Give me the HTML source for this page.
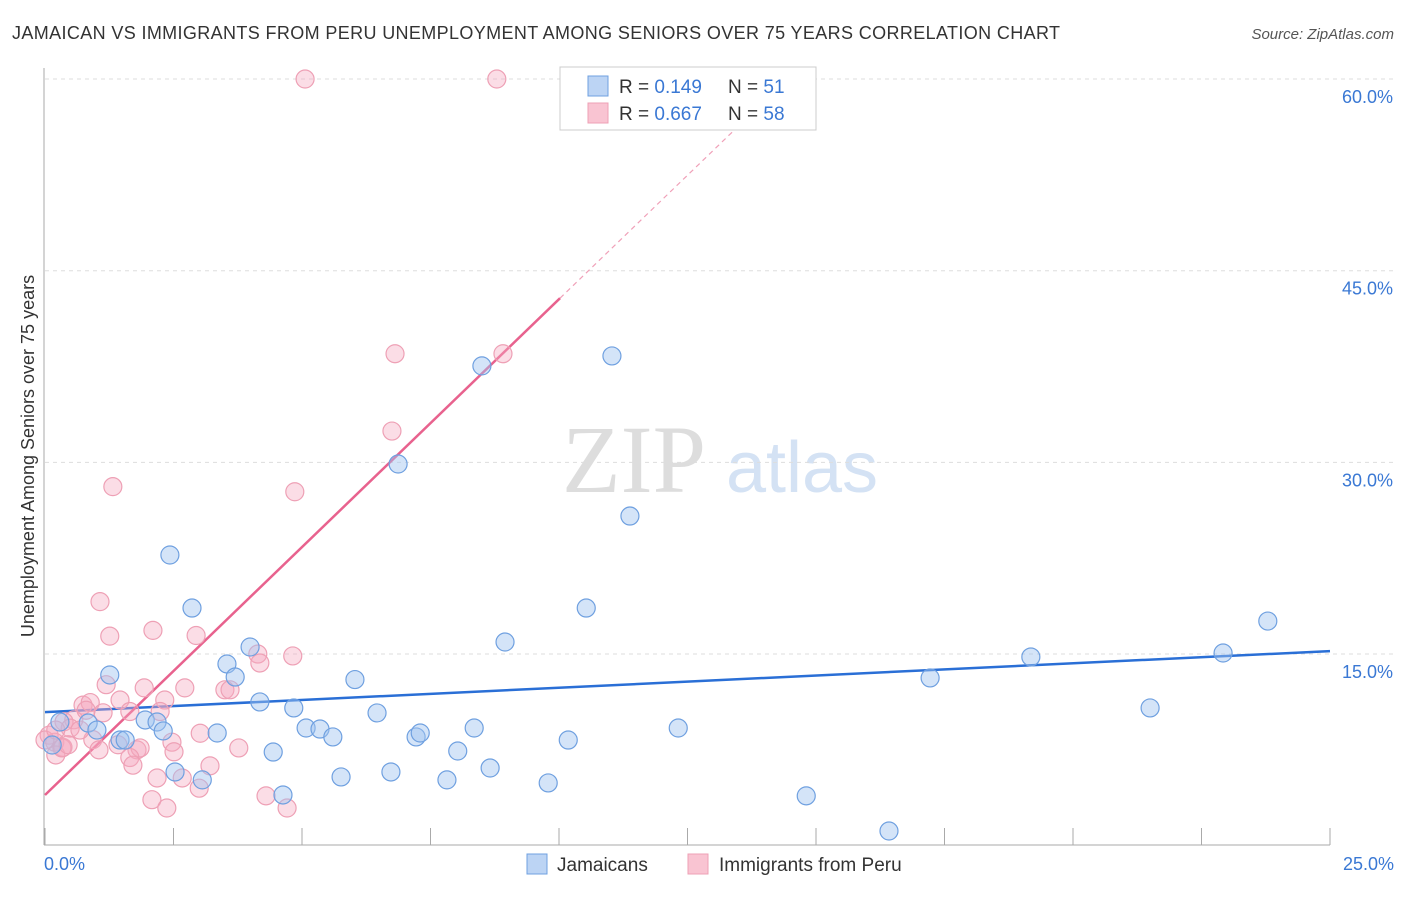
<!DOCTYPE html>
<html><head><meta charset="utf-8"><style>
body{margin:0;background:#fff;font-family:"Liberation Sans",sans-serif}
svg text{font-family:"Liberation Sans",sans-serif}
</style></head><body>
<svg id="c" width="1406" height="892" viewBox="0 0 1406 892">
<text x="12" y="39" font-size="18" fill="#333" textLength="1048">JAMAICAN VS IMMIGRANTS FROM PERU UNEMPLOYMENT AMONG SENIORS OVER 75 YEARS CORRELATION CHART</text>
<text x="1394" y="39" font-size="15" fill="#555" font-style="italic" text-anchor="end">Source: ZipAtlas.com</text>
<text x="634" y="492" font-size="96" fill="#ddd" text-anchor="middle" font-family="Liberation Serif" style="font-family:'Liberation Serif',serif">ZIP</text>
<text x="802" y="492" font-size="72" fill="#d4e2f4" text-anchor="middle">atlas</text>
<text transform="translate(34,456) rotate(-90)" font-size="18" fill="#333" text-anchor="middle">Unemployment Among Seniors over 75 years</text>
<g id="grid"></g><g id="ticks"></g><g id="lines"></g><g id="pts"></g>
<g>
<rect x="560" y="67" width="256" height="63" fill="#fff" stroke="#ccc"/>
<rect x="588" y="76" width="20" height="20" fill="#bcd4f4" stroke="#6fa0e0"/>
<rect x="588" y="103" width="20" height="20" fill="#f9c4d2" stroke="#eea0b5"/>
<text x="619" y="93" font-size="19" fill="#333">R = <tspan fill="#3a78d4">0.149</tspan><tspan x="728">N = </tspan><tspan fill="#3a78d4">  51</tspan></text>
<text x="619" y="120" font-size="19" fill="#333">R = <tspan fill="#3a78d4">0.667</tspan><tspan x="728">N = </tspan><tspan fill="#3a78d4">  58</tspan></text>
</g>
<g>
<rect x="527" y="854" width="20" height="20" fill="#bcd4f4" stroke="#6fa0e0"/>
<text x="557" y="871" font-size="19" fill="#333">Jamaicans</text>
<rect x="688" y="854" width="20" height="20" fill="#f9c4d2" stroke="#eea0b5"/>
<text x="719" y="871" font-size="19" fill="#333">Immigrants from Peru</text>
</g>
</svg>
<script>
const yTicks=[15,30,45,60];
const yTickLabels=["15.0%","30.0%","45.0%","60.0%"];
const xTickLabels=["0.0%","25.0%"];
const blueX=[0.14,0.29,0.84,1.01,1.26,1.46,1.56,1.95,2.18,2.30,2.43,2.53,2.86,3.06,3.35,3.54,3.70,3.99,4.18,4.44,4.63,4.84,5.08,5.35,5.60,5.76,6.03,6.46,6.73,6.87,7.22,7.30,7.82,8.03,8.35,8.50,8.66,8.95,9.79,10.18,10.53,11.03,11.38,12.32,14.81,16.42,17.22,19.18,21.5,22.92,23.79];
const blueY=[7.88,9.68,9.6,9.05,13.36,8.27,8.27,9.84,9.68,8.98,22.75,5.77,18.6,5.15,8.82,14.22,13.2,15.55,11.25,7.33,3.97,10.78,9.21,9.13,8.51,5.38,13.0,10.39,5.77,29.87,8.51,8.82,5.15,7.41,9.21,37.55,6.08,15.94,4.91,8.27,18.6,38.33,25.8,9.21,3.9,1.15,13.13,14.77,10.78,15.08,17.58];
const pinkX=[5.06,8.79,6.81,8.91,6.75,4.86,1.32,1.07,1.26,2.10,2.94,4.14,4.82,4.18,1.93,2.72,3.50,3.60,1.19,1.46,2.33,0.74,0.88,1.13,2.24,0.56,0.37,0.49,1.65,0.93,1.42,1.79,1.85,3.02,2.47,2.51,3.77,0.08,0.19,0.35,0.21,1.65,1.71,2.18,2.67,3.21,3.00,2.08,2.37,4.30,4.71,0.33,0.45,1.05,0,0.68,0.8,0.21];
const pinkY=[60,60,38.5,38.5,32.45,27.7,28.1,19.1,16.4,16.85,16.45,15.0,14.85,14.3,12.35,12.35,12.2,12.2,12.6,11.4,11.4,11.0,11.2,10.4,10.5,9.85,9.7,9.2,10.5,8.3,7.9,7.5,7.65,8.8,8.1,7.35,7.65,8.65,8.1,7.7,7.1,6.9,6.3,5.3,5.3,6.25,4.5,3.6,2.95,3.9,2.95,7.65,7.9,7.5,8.27,9.05,10.6,9.05];
const blueTrend=[10.45,15.23];
const pinkTrend=[3.97,3.88];
const NS="http://www.w3.org/2000/svg";
const X=v=>45+v*51.4, Y=v=>845.7-v*12.778;
function mk(tag,attrs,parent){const e=document.createElementNS(NS,tag);for(const k in attrs)e.setAttribute(k,attrs[k]);document.getElementById(parent).appendChild(e);return e;}
let e=mk('line',{x1:44,y1:68,x2:44,y2:845,stroke:'#aaa'},'ticks');


e=mk('line',{x1:44,y1:845,x2:1330,y2:845,stroke:'#aaa'},'ticks');


yTicks.forEach((t,i)=>{
 let g=mk('line',{x1:45,y1:Y(t),x2:1394,y2:Y(t),stroke:'#ddd','stroke-dasharray':'4,4'},'grid');
 
 
 let l=mk('text',{x:1393,y:Y(t)+24,'font-size':18,fill:'#3a78d4','text-anchor':'end'},'ticks');l.textContent=yTickLabels[i];
 
 
});
for(let i=0;i<=10;i++){let t=mk('line',{x1:X(i*2.5),y1:828,x2:X(i*2.5),y2:845,stroke:'#aaa'},'ticks');
 
 }
let xl=mk('text',{x:44,y:870,'font-size':18,fill:'#3a78d4'},'ticks');xl.textContent=xTickLabels[0];


xl=mk('text',{x:1394,y:870,'font-size':18,fill:'#3a78d4','text-anchor':'end'},'ticks');xl.textContent=xTickLabels[1];


pinkX.forEach((x,i)=>{let c=mk('circle',{cx:X(x),cy:Y(pinkY[i]),r:9,fill:'rgba(245,170,192,0.4)',stroke:'#eea0b5','stroke-width':1.2},'pts');
 
 });
blueX.forEach((x,i)=>{let c=mk('circle',{cx:X(x),cy:Y(blueY[i]),r:9,fill:'rgba(160,196,240,0.45)',stroke:'#6fa0e0','stroke-width':1.2},'pts');
 
 });
let b=mk('line',{x1:X(0),y1:Y(blueTrend[0]),x2:X(25),y2:Y(blueTrend[1]),stroke:'#2a6fd6','stroke-width':2.5},'lines');


const pe=10.02, pd=13.5;
let p=mk('line',{x1:X(0),y1:Y(pinkTrend[0]),x2:X(pe),y2:Y(pinkTrend[0]+pinkTrend[1]*pe),stroke:'#e8628e','stroke-width':2.5},'lines');


p=mk('line',{x1:X(pe),y1:Y(pinkTrend[0]+pinkTrend[1]*pe),x2:X(pd),y2:Y(pinkTrend[0]+pinkTrend[1]*pd),stroke:'#f0a0b8','stroke-width':1.2,'stroke-dasharray':'5,4'},'lines');


</script>
</body></html>
